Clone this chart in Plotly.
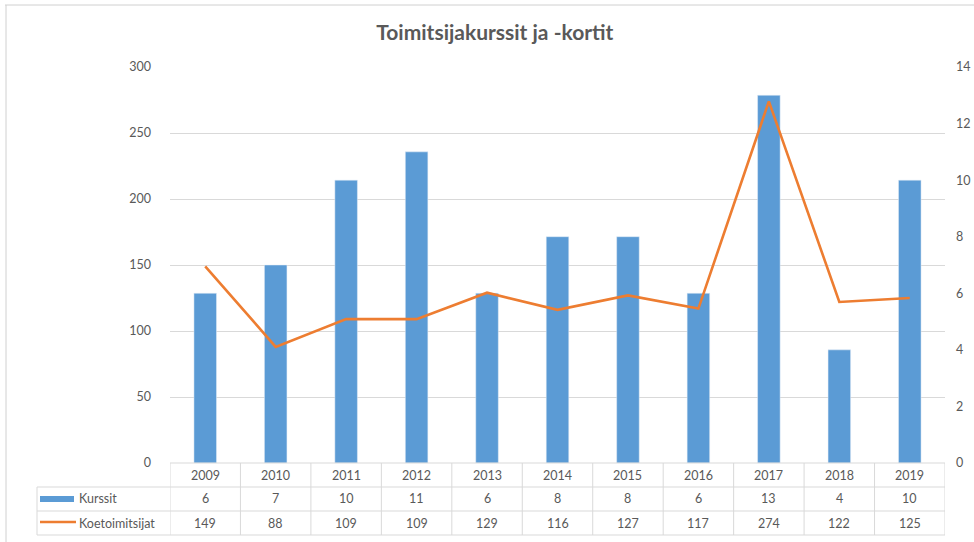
import plotly.graph_objects as go

years = ["2009", "2010", "2011", "2012", "2013", "2014", "2015", "2016", "2017", "2018", "2019"]
kurssit = [6, 7, 10, 11, 6, 8, 8, 6, 13, 4, 10]
koetoimitsijat = [149, 88, 109, 109, 129, 116, 127, 117, 274, 122, 125]

BLUE = "#5B9BD5"
ORANGE = "#ED7D31"
TXT = "#595959"
GRID = "#D9D9D9"
FONT = "Lato"

fig = go.Figure()
fig.add_trace(go.Bar(x=years, y=kurssit, name="Kurssit", marker_color=BLUE,
                     yaxis="y", width=0.32))
fig.add_trace(go.Scatter(x=years, y=koetoimitsijat, name="Koetoimitsijat", mode="lines",
                         line=dict(color=ORANGE, width=2.6), yaxis="y2"))

# plot area geometry (pixels) used to place the data table below the axis
L, R, T, B = 170, 29, 67, 79
H = 542 - T - B
W = 974 - L - R
def py(ypix):
    return (463 - ypix) / H
def px(xpix):
    return (xpix - L) / W

rows = [463, 487, 511, 535]
shapes = []
shapes.append(dict(type="line", xref="paper", yref="paper", x0=0, x1=1, y0=py(rows[0]), y1=py(rows[0]),
                   line=dict(color=GRID, width=1)))
for r in rows[1:]:
    shapes.append(dict(type="line", xref="paper", yref="paper", x0=px(37), x1=1, y0=py(r), y1=py(r),
                       line=dict(color=GRID, width=1)))
for k in range(len(years) + 1):
    shapes.append(dict(type="line", xref="x", yref="paper", x0=k - 0.5, x1=k - 0.5,
                       y0=py(rows[0]), y1=py(rows[3]), line=dict(color=GRID, width=1)))
shapes.append(dict(type="line", xref="paper", yref="paper", x0=px(37), x1=px(37),
                   y0=py(rows[1]), y1=py(rows[3]), line=dict(color=GRID, width=1)))
# legend keys
shapes.append(dict(type="rect", xref="paper", yref="paper", x0=px(40), x1=px(74),
                   y0=py(502), y1=py(496), fillcolor=BLUE, line=dict(width=0)))
shapes.append(dict(type="line", xref="paper", yref="paper", x0=px(40), x1=px(76),
                   y0=py(522), y1=py(522), line=dict(color=ORANGE, width=2.5)))
# outer sheet frame
shapes.append(dict(type="line", xref="paper", yref="paper", x0=px(5), x1=px(974),
                   y0=py(5), y1=py(5), line=dict(color="#D0D0D0", width=1)))
shapes.append(dict(type="line", xref="paper", yref="paper", x0=px(6), x1=px(6),
                   y0=py(5), y1=py(542), line=dict(color="#D0D0D0", width=1)))

ann = []
def row_y(i):
    return py((rows[i] + rows[i + 1]) / 2)
f = dict(size=12.5, color=TXT, family=FONT)
for i, yr in enumerate(years):
    for r, txt in enumerate([yr, str(kurssit[i]), str(koetoimitsijat[i])]):
        ann.append(dict(x=i, xref="x", y=row_y(r), yref="paper", text=txt, showarrow=False,
                        xanchor="center", yanchor="middle", font=f))
ann.append(dict(x=px(77), xref="paper", y=row_y(1), yref="paper", text="Kurssit", showarrow=False,
                xanchor="left", yanchor="middle", font=f))
ann.append(dict(x=px(77), xref="paper", y=row_y(2), yref="paper", text="Koetoimitsijat", showarrow=False,
                xanchor="left", yanchor="middle", font=f))

fig.update_layout(
    width=974, height=542,
    margin=dict(l=L, r=R, t=T, b=B, autoexpand=False),
    paper_bgcolor="white", plot_bgcolor="white",
    showlegend=False,
    title=dict(text="<b>Toimitsijakurssit ja -kortit</b>", x=0.508, xanchor="center",
               y=1 - 33 / 542, yanchor="middle",
               font=dict(size=21, color=TXT, family=FONT)),
    xaxis=dict(type="category", range=[-0.5, len(years) - 0.5], showticklabels=False,
               showgrid=False, zeroline=False, showline=False, ticks=""),
    yaxis=dict(range=[0, 14], dtick=2, side="right", showgrid=False, zeroline=False,
               tickfont=f, ticklabelstandoff=10),
    yaxis2=dict(range=[0, 300], dtick=50, side="left", overlaying="y", showgrid=True,
                gridcolor=GRID, gridwidth=1, zeroline=False,
                tickfont=f, ticklabelstandoff=18),
    shapes=shapes,
    annotations=ann,
)

fig.write_html("out.html", config={"displayModeBar": False},
               post_script="document.body.style.margin='0';")
